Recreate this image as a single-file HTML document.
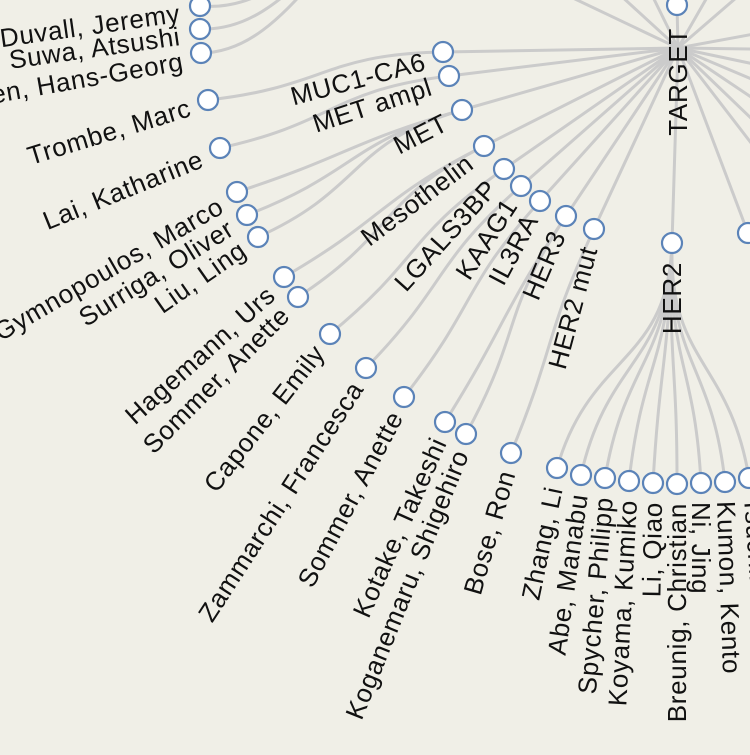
<!DOCTYPE html>
<html><head><meta charset="utf-8"><style>
html,body{margin:0;padding:0;background:#f0efe7;}
svg{display:block;font-family:"Liberation Sans",sans-serif;}
text{font-size:26px;fill:#111;letter-spacing:0.7px;}
</style></head><body>
<svg id="s" width="750" height="755" viewBox="0 0 750 755" xmlns="http://www.w3.org/2000/svg">
<rect width="750" height="755" fill="#f0efe7"/>
<g id="links" fill="none" stroke="#cbcbcb" stroke-width="3"></g>
<g id="nodes" fill="#fff" stroke="#5b83b8" stroke-width="2.2"></g>
<g id="labels"></g>
</svg>
<script>
var C=[678,48];
var L1=[
 {p:[443,52],n:"MUC1-CA6",e:[425,61],a:-15,k:[{p:[208,100],n:"Trombe, Marc",e:[190,107],a:-17}]},
 {p:[449,76],n:"MET ampl",e:[431,86],a:-18,k:[{p:[220,148],n:"Lai, Katharine",e:[202,158],a:-22}]},
 {p:[462,110],n:"MET",e:[446,121],a:-27,k:[{p:[237,192],n:"Gymnopoulos, Marco",e:[221,204],a:-30},{p:[247,215],n:"Surriga, Oliver",e:[231,226],a:-32},{p:[258,237],n:"Liu, Ling",e:[243,247],a:-35}]},
 {p:[484,146],n:"Mesothelin",e:[470,160],a:-37,k:[{p:[284,277],n:"Hagemann, Urs",e:[271,291],a:-42},{p:[298,297],n:"Sommer, Anette",e:[285,311],a:-45}]},
 {p:[504,169],n:"LGALS3BP",e:[492,184],a:-48,k:[{p:[330,334],n:"Capone, Emily",e:[319,348],a:-52}]},
 {p:[521,186],n:"KAAG1",e:[511,201],a:-57,k:[{p:[366,368],n:"Zammarchi, Francesca",e:[357,384],a:-57}]},
 {p:[540,201],n:"IL3RA",e:[531,216],a:-62,k:[{p:[404,397],n:"Sommer, Anette",e:[396,413],a:-62}]},
 {p:[566,216],n:"HER3",e:[558,232],a:-67,k:[{p:[445,422],n:"Kotake, Takeshi",e:[439,439],a:-66},{p:[466,434],n:"Koganemaru, Shigehiro",e:[461,451],a:-68}]},
 {p:[594,229],n:"HER2 mut",e:[589,247],a:-75,k:[{p:[511,453],n:"Bose, Ron",e:[507,471],a:-74}]},
 {p:[672,243],n:"HER2",e:[672,262],a:-90,k:[
   {p:[557,468],n:"Zhang, Li",e:[554,487],a:-78},
   {p:[581,475],n:"Abe, Manabu",e:[579,494],a:-82},
   {p:[605,478],n:"Spycher, Philipp",e:[604,497],a:-85},
   {p:[629,481],n:"Koyama, Kumiko",e:[628,500],a:-87},
   {p:[653,483],n:"Li, Qiao",e:[653,502],a:-89},
   {p:[677,484],n:"Breunig, Christian",e:[677,503],a:-90},
   {p:[701,483],n:"Ni, Jing",e:[701,502],a:90,s:1},
   {p:[725,482],n:"Kumon, Kento",e:[726,501],a:88,s:1},
   {p:[749,478],n:"Tsuchikama, K",e:[753,497],a:86,s:1}]},
 {p:[748,233],n:"",k:[]},
 {p:[677,5],n:"",k:[]},
 {p:[430,-70],n:"",k:[{p:[200,6],n:"Duvall, Jeremy",e:[180,13],a:-8},{p:[200,29],n:"Suwa, Atsushi",e:[180,36],a:-8},{p:[201,53],n:"Bornhausen, Hans-Georg",e:[183,61],a:-10}]},
 {p:[560,-60],n:"",k:[]},{p:[620,-70],n:"",k:[]},
 {p:[830,20],n:"",k:[]},{p:[830,50],n:"",k:[]},{p:[830,80],n:"",k:[]},{p:[825,110],n:"",k:[]},
 {p:[815,140],n:"",k:[]},{p:[805,170],n:"",k:[]},{p:[795,200],n:"",k:[]},{p:[780,-40],n:"",k:[]},{p:[740,-60],n:"",k:[]}
];
var NS="http://www.w3.org/2000/svg";
function el(t,a,par){var e=document.createElementNS(NS,t);for(var k in a)e.setAttribute(k,a[k]);document.getElementById(par).appendChild(e);return e;}
function pol(p){var dx=p[0]-C[0],dy=p[1]-C[1];var r=Math.sqrt(dx*dx+dy*dy);return [r,dx/r,dy/r];}
function link(s,t){
 var ps=pol(s),pt=pol(t),rm=(ps[0]+pt[0])/2;
 var c1=[C[0]+ps[1]*rm,C[1]+ps[2]*rm],c2=[C[0]+pt[1]*rm,C[1]+pt[2]*rm];
 el("path",{d:"M"+s+"C"+c1+" "+c2+" "+t},"links");
}
function rootlink(t){
 var pt=pol(t);var c1=[C[0]+pt[1]*pt[0]*0.35,C[1]+pt[2]*pt[0]*0.35];
 var c2=[C[0]+pt[1]*pt[0]*0.7,C[1]+pt[2]*pt[0]*0.7];
 el("path",{d:"M"+C+"C"+c1+" "+c2+" "+t},"links");
}
function label(n,e,a,s){
 if(!n)return;
 var t=el("text",{transform:"translate("+e[0]+","+e[1]+") rotate("+a+")","text-anchor":s?"start":"end","dominant-baseline":"central"},"labels");
 t.textContent=n;
}
L1.forEach(function(o){
 rootlink(o.p);
 o.k.forEach(function(c){link(o.p,c.p);});
});
L1.forEach(function(o){
 el("circle",{cx:o.p[0],cy:o.p[1],r:10},"nodes");
 label(o.n,o.e,o.a);
 o.k.forEach(function(c){el("circle",{cx:c.p[0],cy:c.p[1],r:10},"nodes");label(c.n,c.e,c.a,c.s);});
});
label("TARGET",[678,28],-90);
</script>
</body></html>
